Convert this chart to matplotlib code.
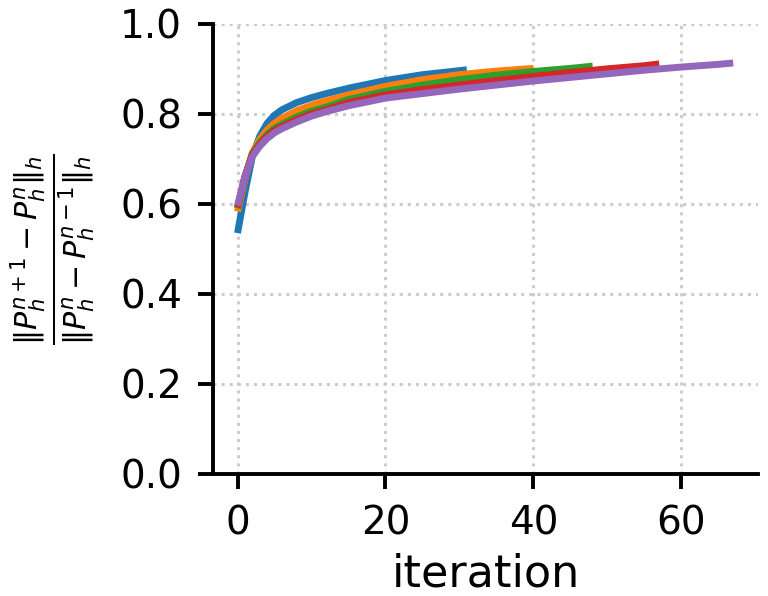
import matplotlib
matplotlib.use("Agg")
import matplotlib.pyplot as plt

# iteration samples and ratio values
x_blue = [0, 1, 2, 3, 4, 5, 6, 8, 10, 12, 15, 20, 25, 30, 31]
y_blue = [0.535, 0.625, 0.705, 0.750, 0.779, 0.797, 0.809, 0.825, 0.836, 0.845, 0.857, 0.874, 0.887, 0.896, 0.898]

x_orange = [0, 1, 2, 3, 4, 5, 6, 8, 10, 12, 15, 20, 25, 30, 35, 40]
y_orange = [0.583, 0.655, 0.713, 0.743, 0.764, 0.779, 0.790, 0.807, 0.819, 0.829, 0.842, 0.861, 0.876, 0.887, 0.895, 0.901]

x_green = [0, 1, 2, 3, 4, 5, 6, 8, 10, 12, 15, 20, 25, 30, 35, 40, 45, 48]
y_green = [0.590, 0.660, 0.711, 0.736, 0.754, 0.768, 0.777, 0.793, 0.806, 0.815, 0.832, 0.850, 0.864, 0.876, 0.886, 0.894, 0.901, 0.906]

x_red = [0, 1, 2, 3, 4, 5, 6, 8, 10, 12, 15, 20, 25, 30, 35, 40, 45, 50, 55, 57]
y_red = [0.592, 0.661, 0.709, 0.732, 0.750, 0.763, 0.772, 0.787, 0.800, 0.809, 0.825, 0.842, 0.854, 0.864, 0.874, 0.883, 0.892, 0.900, 0.907, 0.911]

x_purple = [0, 1, 2, 3, 4, 5, 6, 8, 10, 12, 15, 20, 25, 30, 35, 40, 45, 50, 55, 60, 65, 67]
y_purple = [0.596, 0.660, 0.705, 0.728, 0.745, 0.758, 0.767, 0.782, 0.795, 0.805, 0.818, 0.835, 0.845, 0.855, 0.864, 0.873, 0.881, 0.889, 0.897, 0.904, 0.910, 0.913]

series = [(x_blue, y_blue, "#1f77b4"), (x_orange, y_orange, "#ff7f0e"),
          (x_green, y_green, "#2ca02c"), (x_red, y_red, "#d62728"),
          (x_purple, y_purple, "#9467bd")]

fig = plt.figure(figsize=(7.68, 5.96), dpi=100)
ax = fig.add_axes([0.277, 0.205, 0.710, 0.755])
for xs, ys, c in series:
    ax.plot(xs, ys, color=c, lw=5, solid_capstyle="butt")

ax.set_ylim(0, 1.0)
ax.set_yticks([0.0, 0.2, 0.4, 0.6, 0.8, 1.0])
ax.set_xticks([0, 20, 40, 60])
ax.grid(True, linestyle=":", color="#cccccc", lw=2.2)
ax.set_axisbelow(True)
for s in ["top", "right"]:
    ax.spines[s].set_visible(False)
for s in ["left", "bottom"]:
    ax.spines[s].set_linewidth(2.8)
ax.tick_params(labelsize=28, width=2.8, length=11, pad=11)
ax.set_xlabel("iteration", fontsize=32, labelpad=7)
ax.set_ylabel(r"$\frac{\|P_h^{n+1} - P_h^n\|_h}{\|P_h^n - P_h^{n-1}\|_h}$", fontsize=31, labelpad=16)

fig.savefig("out.png", dpi=100)
